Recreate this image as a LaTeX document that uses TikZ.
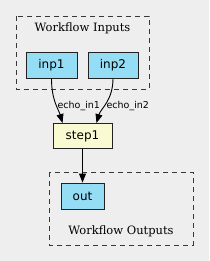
\documentclass[tikz,border=0pt]{standalone}
\usepackage{fontspec}
\setmainfont{DejaVu Serif}
\setsansfont{DejaVu Sans}
\usetikzlibrary{arrows.meta}
\definecolor{bgcol}{HTML}{EEEEEE}
\definecolor{iocol}{HTML}{94DDF4}
\definecolor{stepcol}{HTML}{FAFAD2}
\definecolor{linecol}{HTML}{222222}

\tikzset{
  iobox/.style={draw=linecol, line width=0.9pt, fill=iocol, minimum height=26pt,
    inner sep=0pt, font=\sffamily\fontsize{12}{12}\selectfont},
  stepbox/.style={iobox, fill=stepcol},
  cluster/.style={draw=linecol!90, line width=0.9pt, dash pattern=on 5pt off 4pt},
  clabel/.style={font=\fontsize{11.5}{12}\selectfont, text=black},
  elabel/.style={font=\sffamily\fontsize{9.5}{10}\selectfont, inner sep=1pt},
  edge/.style={line width=0.9pt, -{Triangle[length=9pt,width=7pt]}},
}

\begin{document}
\begin{tikzpicture}[x=1pt, y=-1pt]
                \useasboundingbox[fill=bgcol] (0,0) rectangle (209,261);
                % clusters
                \draw[cluster] (16,16) rectangle (149,89);
                \node[clabel] (intitle) at (82.5,28) {Workflow Inputs};
                \draw[cluster] (49,172) rectangle (193,245);
                \node[clabel] (outtitle) at (121,231.5) {Workflow Outputs};
                % nodes
                \node[iobox, minimum width=51pt] (inp1) at (51.5,65) {inp1};
                \node[iobox, minimum width=50pt] (inp2) at (113,65) {inp2};
                \node[stepbox, minimum width=59pt, minimum height=25pt] (step1) at (82.5,136) {step1};
                \node[iobox, minimum width=43pt] (out) at (82.5,196) {out};
                % edges
                \draw[edge] (inp1.south) .. controls +(0,22) and +(-4,-14) .. ([xshift=-20pt]step1.north)
                    node[elabel, pos=0.55, anchor=west] (lab1) {echo\_in1};
                \draw[edge] (inp2.south) .. controls +(0,22) and +(4,-14) .. ([xshift=14pt]step1.north)
                    node[elabel, pos=0.55, anchor=west] (lab2) {echo\_in2};
                \draw[edge] (step1.south) -- (out.north);
            \end{tikzpicture}
\end{document}
